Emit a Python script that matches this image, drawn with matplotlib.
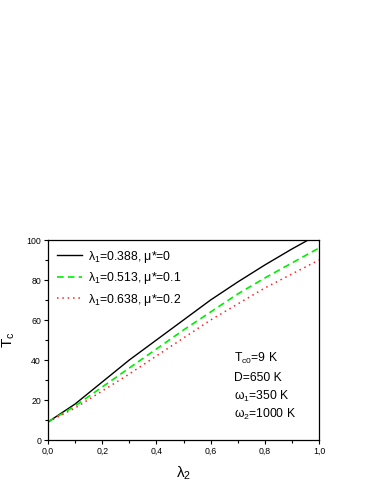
import numpy as np
import matplotlib
matplotlib.use("Agg")
import matplotlib.pyplot as plt
from matplotlib.ticker import FuncFormatter, MultipleLocator

plt.rcParams['font.family'] = ['Liberation Sans', 'DejaVu Sans']
plt.rcParams['mathtext.fontset'] = 'custom'
plt.rcParams['mathtext.rm'] = 'Liberation Sans'
plt.rcParams['mathtext.it'] = 'Liberation Sans'
plt.rcParams['mathtext.default'] = 'regular'

# data
lam2 = [0.0, 0.1, 0.2, 0.3, 0.4, 0.5, 0.6, 0.7, 0.8, 0.9, 1.0]
tc_a = [9.0, 18.0, 29.0, 40.0, 50.0, 60.0, 70.0, 79.0, 87.5, 95.5, 103.0]
tc_b = [9.0, 17.0, 26.5, 36.0, 45.5, 55.0, 64.0, 73.0, 81.0, 88.5, 96.0]
tc_c = [9.0, 16.0, 24.5, 33.0, 42.0, 51.0, 60.0, 68.0, 76.0, 83.0, 90.0]

labels = [r'$\lambda_1$=0.388, $\mu$*=0',
          r'$\lambda_1$=0.513, $\mu$*=0.1',
          r'$\lambda_1$=0.638, $\mu$*=0.2']
params = [r'$T_{c0}$=9 K', 'D=650 K', r'$\omega_1$=350 K', r'$\omega_2$=1000 K']

fig = plt.figure(figsize=(3.74, 4.84), dpi=100)
ax = fig.add_axes([48 / 374, 44 / 484, 271 / 374, 200 / 484])

ax.plot(lam2, tc_a, color='black', lw=1.0, label=labels[0])
ax.plot(lam2, tc_b, color='#00ee00', lw=1.2, ls=(0, (4, 2.5)), label=labels[1])
ax.plot(lam2, tc_c, color='#ff2020', lw=1.1, ls=(0, (1, 2.5)), label=labels[2])

ax.set_xlim(0, 1.0)
ax.set_ylim(0, 100)
ax.xaxis.set_major_locator(MultipleLocator(0.2))
ax.xaxis.set_minor_locator(MultipleLocator(0.1))
ax.yaxis.set_major_locator(MultipleLocator(20))
ax.yaxis.set_minor_locator(MultipleLocator(10))
ax.xaxis.set_major_formatter(FuncFormatter(lambda v, p: f"{v:.1f}".replace('.', ',')))
ax.yaxis.set_major_formatter(FuncFormatter(lambda v, p: f"{v:.0f}"))
ax.tick_params(which='both', direction='out', labelsize=6.3, width=0.8, pad=2)
ax.tick_params(which='major', length=3)
ax.tick_params(which='minor', length=2)
for s in ax.spines.values():
    s.set_linewidth(0.9)

ax.set_xlabel(r'$\lambda_2$', fontsize=11, labelpad=6)
ax.set_ylabel(r'$T_c$', fontsize=11, labelpad=7)

ax.legend(loc='upper left', bbox_to_anchor=(0.0, 1.0), frameon=False,
          fontsize=8.8, handlelength=2.1, handletextpad=0.5, labelspacing=0.45,
          borderaxespad=0.3)

ys = [0.41, 0.31, 0.22, 0.13]
for t, y in zip(params, ys):
    ax.text(0.686, y, t, transform=ax.transAxes, fontsize=8.7, va='center', ha='left')

fig.savefig('out.png', dpi=100)
